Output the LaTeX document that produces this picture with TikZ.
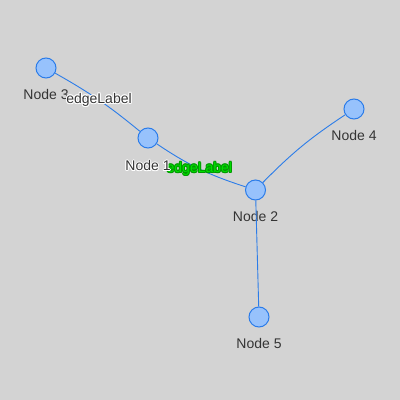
\documentclass[tikz,border=0pt]{standalone}
\usepackage{fontspec}
\setmainfont{Liberation Sans}
\usetikzlibrary{positioning}
\definecolor{canvas}{HTML}{D3D3D3}
\definecolor{dotfill}{HTML}{97C2FC}
\definecolor{dotline}{HTML}{2B7CE9}
\definecolor{labeltext}{HTML}{343434}
\definecolor{hlfill}{HTML}{00E000}
\definecolor{hlline}{HTML}{009A00}
\newcommand{\haloshift}[3]{\rlap{\hspace*{#1}\raisebox{#2}{#3}}}
\newcommand{\halotext}[3]{{\color{#1}\haloshift{1pt}{0pt}{#3}\haloshift{-1pt}{0pt}{#3}\haloshift{0pt}{1pt}{#3}\haloshift{0pt}{-1pt}{#3}\haloshift{.7pt}{.7pt}{#3}\haloshift{-.7pt}{.7pt}{#3}\haloshift{.7pt}{-.7pt}{#3}\haloshift{-.7pt}{-.7pt}{#3}}{\color{#2}#3}}
\tikzstyle{dot} = [circle, draw=dotline, fill=dotfill, line width=1pt, minimum size=20pt, inner sep=0pt]
\tikzstyle{nodetext} = [text=labeltext, inner sep=0pt, font=\fontsize{14}{16}\selectfont]
\tikzstyle{link} = [draw=dotline, line width=0.9pt]
\tikzstyle{linktext} = [inner sep=0pt, font=\fontsize{14}{16}\selectfont]
\begin{document}
\begin{tikzpicture}[x=1pt, y=1pt, node distance=11pt]

	% Canvas
	\fill[canvas] (0,0) rectangle (400,400);
	\useasboundingbox (0,0) rectangle (400,400);

	% Nodes
	\node (n1) [dot] at (148,262) {};
	\node (n2) [dot] at (255.5,210) {};
	\node (n3) [dot] at (46,332) {};
	\node (n4) [dot] at (354,291) {};
	\node (n5) [dot] at (259,83) {};

	% Node labels
	\node (n2t) [nodetext, below=of n2] {Node 2};
	\node (n3t) [nodetext, below=of n3] {Node 3};
	\node (n4t) [nodetext, below=of n4] {Node 4};
	\node (n5t) [nodetext, below=of n5] {Node 5};

	% Edges
	\draw[link] (n3) to[bend left=5] node[linktext, midway] (e31) {\halotext{white}{labeltext}{edgeLabel}} (n1);
	\draw[link] (n1) to[bend right=8] node[linktext, midway] (e12) {\halotext{hlline}{hlfill}{edgeLabel}} (n2);
	\draw[link] (n2) to[bend left=6] (n4);
	\draw[link] (n2) -- (n5);

	% Node 1 label on top
	\node (n1t) [nodetext, below=of n1] {\halotext{white}{labeltext}{Node 1}};

\end{tikzpicture}
\end{document}
